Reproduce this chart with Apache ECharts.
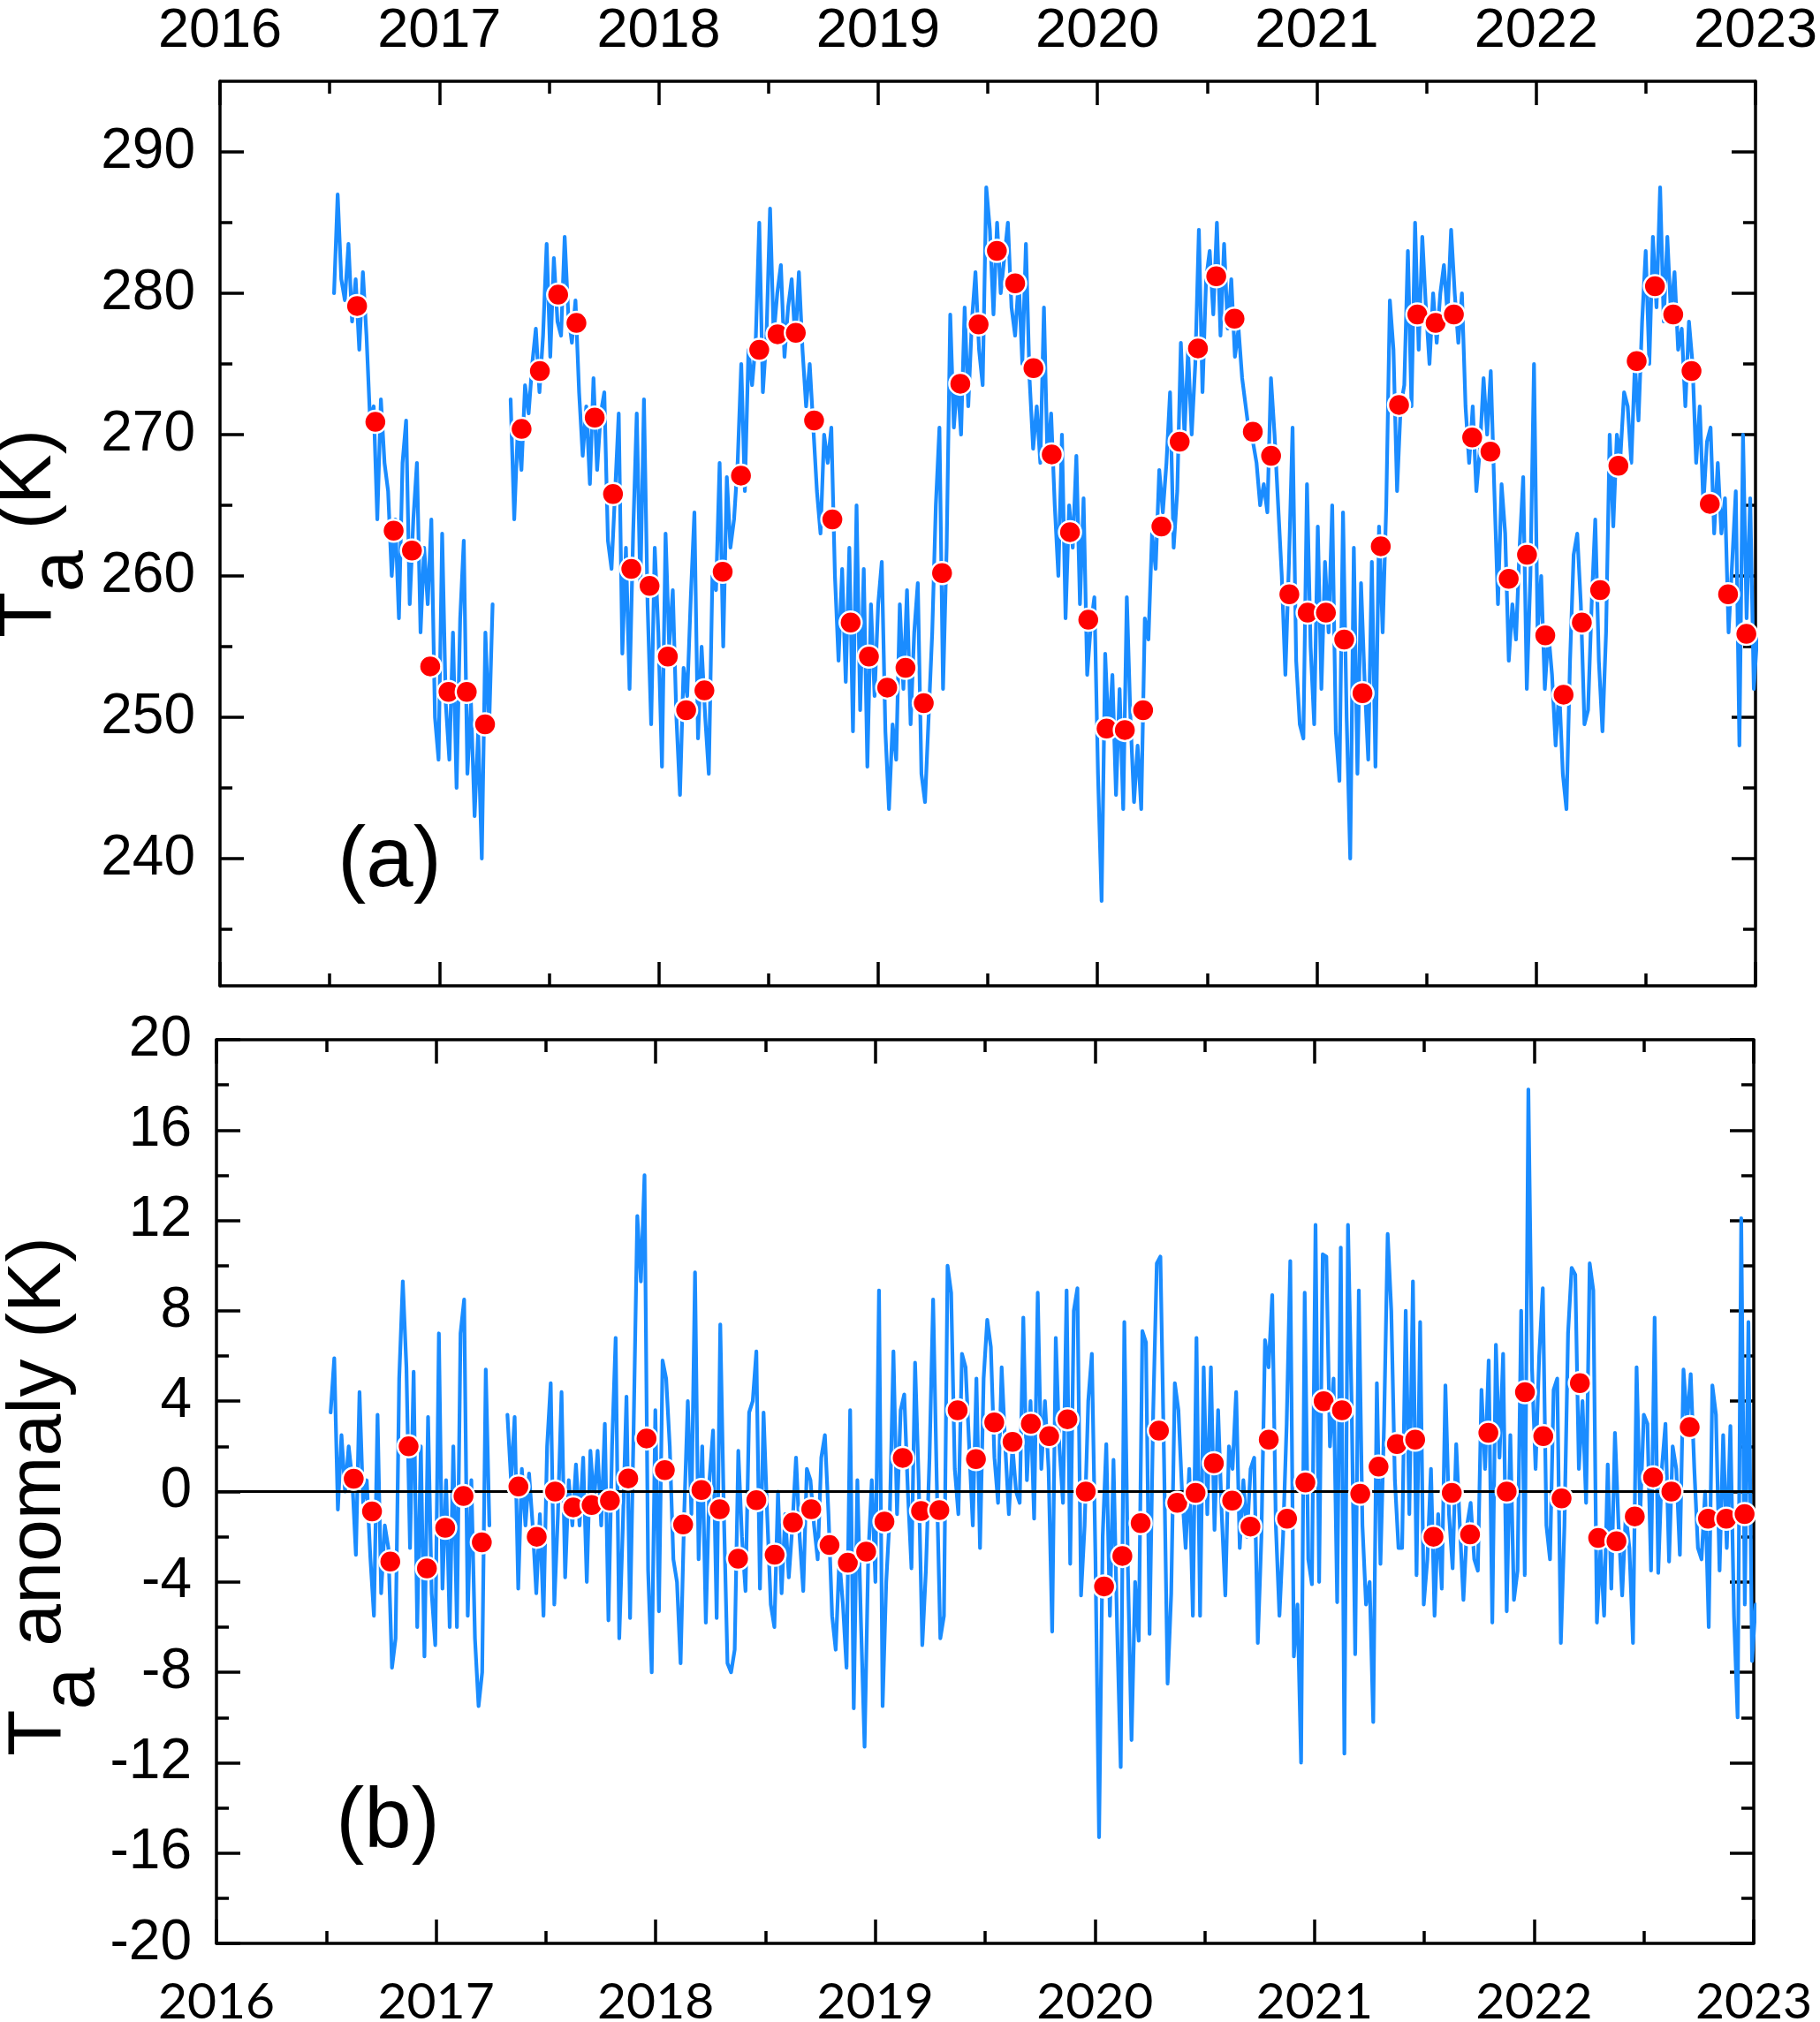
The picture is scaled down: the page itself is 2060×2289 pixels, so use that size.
<!DOCTYPE html>
<html>
<head>
<meta charset="utf-8">
<script src="https://cdn.jsdelivr.net/npm/echarts@6/dist/echarts.min.js"></script>
<style>
html,body{margin:0;padding:0;background:#fff;}
#c{width:2060px;height:2289px;}
</style>
</head>
<body>
<div id="c"></div>
<script>
// ---- time base for the ~6-day sampled series (decimal years) ----
const T0 = 2016.52;
const STEP = 6 / 365.25;
const PART2_START = 49; // index where data resumes after the spring-2017 gap

// ---- panel (a): air temperature Ta (K), sampled line ----
const taPart1 = [280, 287, 281, 279.5, 283.5, 278, 281, 276, 281.5, 277, 271, 272, 264, 272.5, 268, 266, 260, 264, 257, 268, 271, 258, 264, 268, 256, 262, 258, 264, 250, 247, 263, 251, 247, 256, 245, 257, 262.5, 246, 251, 243, 249, 240, 256, 249, 258];
const taPart2 = [
  272.5, 264, 270.5, 267.5, 273.5, 271.5, 275, 277.5, 273, 277, 283.5, 275.5, 282.5, 278, 277, 284, 278.5, 276.5, 279.5, 273,
  268.5, 272, 266.5, 274, 267.5, 271.5, 273, 262.5, 260.5, 266, 271.5, 254.5, 262, 252, 263, 271.5, 259, 272.5, 258, 249.5,
  262, 256, 246.5, 263, 255, 259, 250, 244.5, 253.5, 251.5, 258.5, 264.5, 248.5, 255, 250, 246, 260, 259, 268, 255,
  267, 262, 264,
  268, 275, 266, 276, 273.5, 276.5, 285, 273, 277, 286,
  277, 280, 282, 275.5, 279, 281, 276.5, 281.5, 276, 272,
  275, 270.5, 266, 263, 270, 268, 270.5, 260, 254, 260.5,
  252.5, 262, 249, 265, 250.5, 260.5, 246.5, 258, 251.5, 258,
  261, 249, 243.5, 249.5, 247, 258, 252, 259, 249.5, 256,
  259.5, 246, 244, 250, 256, 265, 270.5, 252, 262, 278.5,
  270.5, 274, 270, 279, 272, 278, 281.5, 276, 273.5, 287.5,
  284.5, 278.5, 285, 280, 282.5, 285, 279, 277, 281, 275,
  283.5, 274, 269, 272, 268, 279, 268, 271.5, 265, 260,
  270, 257, 265, 262, 268.5, 258, 265.5, 253, 256.5, 258.5,
  246, 237, 254.5, 248.5, 253, 244.5, 252, 243.5, 258.5, 250,
  244, 248, 243.5, 257, 255.5, 263, 260.5, 267.5, 264.5, 268,
  273, 262, 266, 276.5, 270, 276, 270, 275, 284.5, 273,
  281, 283, 278.5, 285, 277, 283.5, 277.5, 281, 275.5, 277.5,
  274,
  272, 270, 269.5, 268, 265, 266.5, 264.5, 274, 270, 265,
  260, 253, 261, 270.5, 254, 249.5, 248.5, 266.5, 255, 249.5,
  263.5, 252, 261, 256, 265, 249, 245.5, 264.5, 250, 240,
  262, 246, 259.5, 252.5, 247, 261, 246.5, 263.5, 256, 265,
  279.5, 276, 266, 272, 273.5, 283, 272, 285, 276, 284,
  279, 275, 280, 276.5, 280, 282, 278.5, 284.5, 280, 276.5,
  280, 272, 268, 272, 266, 269, 274, 270, 274.5, 266,
  258, 266.5, 263, 254, 258, 255.5, 262, 267, 252, 260,
  275, 256, 260, 252, 256, 253, 248, 252, 246, 243.5,
  254, 261.5, 263, 258, 249.5, 250.5, 258, 264, 254, 249,
  256, 270, 263.5, 270, 268.5, 273, 272, 268, 275, 271,
  278, 283, 275, 284, 279, 287.5, 278, 284, 278.5, 281.5,
  276, 277.5, 272, 278, 275, 268, 272, 265, 269.5, 270.5,
  263, 268, 263, 265.5, 256, 261, 266, 248, 270, 257,
  265.5, 252, 256
];

// ---- panel (b): Ta anomaly (K), sampled line ----
const anomPart1 = [3.5, 5.9, -0.8, 2.5, 0.0, 2.0, 0.5, -2.8, 4.4, -0.5, 0.5, -2.9, -5.5, 3.4, -4.5, -1.5, -2.5, -7.8, -6.5, 5.0, 9.3, 5.5, -2.5, 5.3, -6.0, 2.0, -7.3, 3.3, -4.5, -6.8, 7.0, -4.3, 0.5, -6.0, 2.0, -6.0, 7.0, 8.5, -5.5, 0.5, -6.5, -9.5, -8.0, 5.4, -1.5];
const anomPart2 = [
  3.4, 0.5, 3.3, -4.3, 1.0, -1.5, 0.8, -1.5, -4.5, -1.0, -5.5, 2.0, 4.8, -5.0, -1.0, 4.4, -3.8, 0.5, -1.5, 1.2,
  -1.5, 1.5, -4.0, 1.8, -0.5, 1.8, -1.5, 3.0, -5.7, 2.0, 6.8,
  -6.5, -1.5, 4.2, -5.6, 3.0, 12.2, 9.3, 14.0, -3.5, -8.0,
  3.6, -5.3, 5.8, 5.0, 2.0, -3.0, -4.0, -7.6, -1.0, 4.0,
  -1.0, 9.7, -3.0, 2.0, -5.8, 0.5, 2.7, -5.6, 7.4, -1.0,
  -7.6, -8.0, -7.0, 1.8, -2.0, -4.4, 3.5, 4.0, 6.2, -4.3,
  3.5, -1.0, -5.0, -6.0, 0.0, -4.5, -1.0, -3.8, -1.5, 1.5,
  -2.0, -4.4, 1.0, 0.5, -1.5, -3.0, 1.5, 2.5, -1.0, -5.5,
  -7.0, -3.0, -5.0, -7.8, 3.6, -9.6, 0.5, -5.8, -11.3, -3.0,
  0.5, -4.0, 8.9, -9.5, -4.0, -1.0, 6.2, -1.0, 3.6, 4.3,
  0.0, -3.4, 5.7, 0.5, -6.8, -3.5, 1.5, 8.5, 0.5, -6.5,
  -5.5, 10.0, 8.8, 1.0, -1.0, 6.1, 5.5, 2.0, -1.5, 5.0,
  -2.5, 5.0, 7.6, 6.4, 1.5, -0.5, 5.5, 2.0,
  -1.0, 2.0, 0.0, -0.5, 7.7, 0.5, 4.0, -1.2, 8.8, 1.0,
  4.0, 1.0, -6.2, 6.8, 2.0, -0.5, 8.9, -3.2, 8.0, 9.0,
  -4.6, -1.5, 4.0, 6.1, -3.0, -15.3, -2.0, 2.1, -5.5, 1.4,
  -6.0, -12.2, 7.5, -3.5, -11.0, -4.0, -6.6, 7.1, 6.6, -6.3,
  3.5, 10.1, 10.4, 1.5, -8.5, -4.5, 4.8, 3.6, 0.0, -2.5,
  1.0, -5.5, 6.8, -5.5, 5.5, -1.0, 5.5, -1.7, 3.6, -1.0,
  -4.6, 2.0, 1.0, 4.4, -2.5, 0.5, -2.0, 1.0, 1.5, -6.7,
  -2.0, 6.7, 5.5, 8.7, -1.5, -5.5, -2.0, 3.0, 10.2, -7.3,
  -5.0, -12.0, 8.8, -3.0, -4.1, 11.8, -4.0, 10.5, 10.4, 2.0,
  5.0, -4.9, 10.8, -11.6, 11.8, 4.0, -7.2, 8.9, -1.5, -5.0,
  -4.0, -10.2, 4.8, -3.2, 3.0, 11.4, 8.0, 0.5, -2.5,
  -2.5, 8.0, -1.0, 9.3, -3.7, 7.5, -5.0, -3.0, 1.0, -5.5,
  -1.0, -4.3, 4.7, -1.0, -3.4, 2.1, -1.5, -4.8, -1.5, -0.5,
  -3.0, -3.5, 4.5, 1.0, 5.8, -5.8, 6.5, 1.5, 6.1, -5.3,
  2.5, -4.8, -3.5, 8.0, -3.7, 17.8, 5.5, 1.0, 6.0, 9.0,
  -1.5, -3.0, 4.5, 5.0, -6.7, -1.5, 7.0, 9.9, 9.6, 1.0,
  4.0, -0.5, 10.1, 8.9, -5.8, -2.5, -5.5, 1.2, -4.3, 2.6,
  -1.5, -4.6, -1.0, -2.5, -6.7, 5.5, -1.0, 3.4, 3.0, -3.5,
  7.7, -3.6, 1.0, 3.0, -3.1, 2.0, 1.0, -2.8, 5.4, 3.0,
  5.2, 1.0, -2.5, -3.0, 0.0, -6.0, 4.7, 3.4, -3.5, 2.5,
  -2.5, 2.9, -5.5, -10.0, 12.1, -5.0, 7.5, -7.5, -5.0
];

// ---- monthly means, Aug 2016 .. Dec 2022 (Apr 2017 missing) ----
const taMonthly = [
  279.1, 270.9, 263.2, 261.8, 253.6,
  251.8, 251.8, 249.5, null, 270.4, 274.5, 279.9, 277.9, 271.2, 265.8, 260.5, 259.3,
  254.3, 250.5, 251.9, 260.3, 267.1, 276.0, 277.1, 277.2, 271.0, 264.0, 256.7, 254.3,
  252.1, 253.5, 251.0, 260.2, 273.6, 277.8, 283.0, 280.7, 274.7, 268.6, 263.1, 256.9,
  249.2, 249.1, 250.5, 263.5, 269.5, 276.1, 281.2, 278.2, 270.2, 268.5, 258.7, 257.4,
  257.4, 255.5, 251.7, 262.1, 272.1, 278.5, 277.9, 278.5, 269.8, 268.8, 259.8, 261.5,
  255.8, 251.6, 256.7, 259.0, 267.8, 275.2, 280.5, 278.5, 274.5, 265.1, 258.7, 255.9
];
const anomMonthly = [
  0.57, -0.88, -3.1, 2.0, -3.4,
  -1.6, -0.2, -2.25, null, 0.22, -2.0, 0.0, -0.7, -0.6, -0.4, 0.58, 2.35,
  0.95, -1.46, 0.07, -0.78, -2.97, -0.38, -2.8, -1.37, -0.78, -2.37, -3.15, -2.66,
  -1.33, 1.49, -0.86, -0.82, 3.6, 1.44, 3.06, 2.2, 3.0, 2.45, 3.2, 0.0,
  -4.2, -2.85, -1.4, 2.7, -0.5, -0.06, 1.25, -0.4, -1.55, 2.3, -1.2, 0.4,
  4.0, 3.6, -0.1, 1.1, 2.1, 2.3, -2.0, -0.06, -1.9, 2.6, 0.0, 4.4,
  2.45, -0.3, 4.8, -2.05, -2.2, -1.1, 0.63, 0.0, 2.85, -1.2, -1.2, -1.0
];

// ---- axis tick values ----
const yearTicksMin = 2016, yearTicksMax = 2023;
const taMajorTicks = [240, 250, 260, 270, 280, 290];
const taMinorTicks = [235, 245, 255, 265, 275, 285];

function buildDaily(p1, p2, start2) {
  const out = [];
  p1.forEach((v, i) => out.push([T0 + i * STEP, v]));
  out.push([T0 + p1.length * STEP, '-']);
  p2.forEach((v, j) => out.push([T0 + (start2 + j) * STEP, v]));
  return out;
}
function buildMonthly(vals) {
  const out = [];
  vals.forEach((v, i) => { if (v !== null) out.push([2016 + (7 + i + 0.5) / 12, v]); });
  return out;
}

const AX = '#000';
const LW = 3.5;
const FONT = 'Liberation Sans, Arial, sans-serif';
const BLUE = '#1a8cff';

function xAx(grid, pos, showLabel, labelFont, labelSize, margin) {
  return {
    type: 'value', gridIndex: grid, position: pos, min: yearTicksMin, max: yearTicksMax, interval: 1,
    axisLine: { show: true, onZero: false, lineStyle: { color: AX, width: LW } },
    axisTick: { show: true, inside: true, length: 27, lineStyle: { color: AX, width: LW } },
    minorTick: { show: true, splitNumber: 2, length: 14, lineStyle: { color: AX, width: LW } },
    splitLine: { show: false }, minorSplitLine: { show: false },
    axisLabel: { show: showLabel, color: '#000', fontFamily: labelFont, fontSize: labelSize, margin: margin,
      formatter: v => String(Math.round(v)) }
  };
}

const option = {
  animation: false,
  backgroundColor: '#fff',
  grid: [
    { left: 249, right: 73, top: 92, bottom: 1173, containLabel: false, outerBoundsMode: 'none' },
    { left: 245, right: 75, top: 1177, bottom: 89, containLabel: false, outerBoundsMode: 'none' }
  ],
  xAxis: [
    xAx(0, 'bottom', false, FONT, 63, 27),
    xAx(0, 'top', true, FONT, 63, 25),
    xAx(1, 'bottom', true, 'Lato, sans-serif', 57, 38),
    xAx(1, 'top', false, FONT, 63, 27)
  ],
  yAxis: [
    { type: 'value', gridIndex: 0, position: 'left', min: 231, max: 295,
      axisLine: { show: true, onZero: false, lineStyle: { color: AX, width: LW } },
      axisTick: { show: true, inside: true, length: 27, customValues: taMajorTicks, lineStyle: { color: AX, width: LW } },
      axisLabel: { show: true, customValues: taMajorTicks, color: '#000', fontFamily: FONT, fontSize: 64, margin: 28 },
      splitLine: { show: false } },
    { type: 'value', gridIndex: 0, position: 'right', min: 231, max: 295,
      axisLine: { show: true, onZero: false, lineStyle: { color: AX, width: LW } },
      axisTick: { show: true, inside: true, length: 27, customValues: taMajorTicks, lineStyle: { color: AX, width: LW } },
      axisLabel: { show: false }, splitLine: { show: false } },
    { type: 'value', gridIndex: 0, position: 'left', min: 231, max: 295,
      axisLine: { show: false, onZero: false },
      axisTick: { show: true, inside: true, length: 14, customValues: taMinorTicks, lineStyle: { color: AX, width: LW } },
      axisLabel: { show: false }, splitLine: { show: false } },
    { type: 'value', gridIndex: 0, position: 'right', min: 231, max: 295,
      axisLine: { show: false, onZero: false },
      axisTick: { show: true, inside: true, length: 14, customValues: taMinorTicks, lineStyle: { color: AX, width: LW } },
      axisLabel: { show: false }, splitLine: { show: false } },
    { type: 'value', gridIndex: 1, position: 'left', min: -20, max: 20, interval: 4,
      axisLine: { show: true, onZero: false, lineStyle: { color: AX, width: LW } },
      axisTick: { show: true, inside: true, length: 27, lineStyle: { color: AX, width: LW } },
      minorTick: { show: true, splitNumber: 2, length: 14, lineStyle: { color: AX, width: LW } },
      axisLabel: { show: true, color: '#000', fontFamily: FONT, fontSize: 64, margin: 28 },
      splitLine: { show: false }, minorSplitLine: { show: false } },
    { type: 'value', gridIndex: 1, position: 'right', min: -20, max: 20, interval: 4,
      axisLine: { show: true, onZero: false, lineStyle: { color: AX, width: LW } },
      axisTick: { show: true, inside: true, length: 27, lineStyle: { color: AX, width: LW } },
      minorTick: { show: true, splitNumber: 2, length: 14, lineStyle: { color: AX, width: LW } },
      axisLabel: { show: false },
      splitLine: { show: false }, minorSplitLine: { show: false } }
  ],
  series: [
    { name: 'Ta daily', type: 'line', xAxisIndex: 0, yAxisIndex: 0, data: buildDaily(taPart1, taPart2, PART2_START),
      showSymbol: false, symbol: 'none', connectNulls: false, clip: true,
      lineStyle: { color: BLUE, width: 4.2, join: 'round', cap: 'round' }, z: 2 },
    { name: 'Ta monthly', type: 'scatter', xAxisIndex: 0, yAxisIndex: 0, data: buildMonthly(taMonthly),
      symbol: 'circle', symbolSize: 25,
      itemStyle: { color: '#ff0000', borderColor: '#ffffff', borderWidth: 2.5, opacity: 1 }, z: 5 },
    { name: 'Anomaly daily', type: 'line', xAxisIndex: 2, yAxisIndex: 4, data: buildDaily(anomPart1, anomPart2, PART2_START),
      showSymbol: false, symbol: 'none', connectNulls: false, clip: true,
      lineStyle: { color: BLUE, width: 4.2, join: 'round', cap: 'round' }, z: 2,
      markLine: { silent: true, symbol: 'none', label: { show: false }, animation: false,
        lineStyle: { color: '#000', width: 3, type: 'solid' }, data: [{ yAxis: 0 }] } },
    { name: 'Anomaly monthly', type: 'scatter', xAxisIndex: 2, yAxisIndex: 4, data: buildMonthly(anomMonthly),
      symbol: 'circle', symbolSize: 25,
      itemStyle: { color: '#ff0000', borderColor: '#ffffff', borderWidth: 2.5, opacity: 1 }, z: 5 }
  ],
  graphic: [
    { type: 'text', x: 52, y: 604, rotation: Math.PI / 2, z: 10,
      style: { text: '{t|T}{s|a}{t| (K)}', textAlign: 'center', textVerticalAlign: 'middle', fill: '#000',
        rich: { t: { fontSize: 85, fontFamily: FONT, lineHeight: 85, verticalAlign: 'top', fill: '#000' },
                s: { fontSize: 85, fontFamily: FONT, lineHeight: 121, verticalAlign: 'bottom', fill: '#000' } } } },
    { type: 'text', x: 63, y: 1694, rotation: Math.PI / 2, z: 10,
      style: { text: '{t|T}{s|a}{t| anomaly (K)}', textAlign: 'center', textVerticalAlign: 'middle', fill: '#000',
        rich: { t: { fontSize: 86, fontFamily: FONT, lineHeight: 86, verticalAlign: 'top', fill: '#000' },
                s: { fontSize: 86, fontFamily: FONT, lineHeight: 124, verticalAlign: 'bottom', fill: '#000' } } } },
    { type: 'text', x: 441, y: 977, z: 10,
      style: { text: '(a)', fontSize: 96, fontFamily: FONT, fill: '#000', textAlign: 'center', textVerticalAlign: 'middle' } },
    { type: 'text', x: 439, y: 2065, z: 10,
      style: { text: '(b)', fontSize: 96, fontFamily: FONT, fill: '#000', textAlign: 'center', textVerticalAlign: 'middle' } }
  ]
};

const chart = echarts.init(document.getElementById('c'), null, { renderer: 'canvas', width: 2060, height: 2289 });
chart.setOption(option);
</script>
</body>
</html>
